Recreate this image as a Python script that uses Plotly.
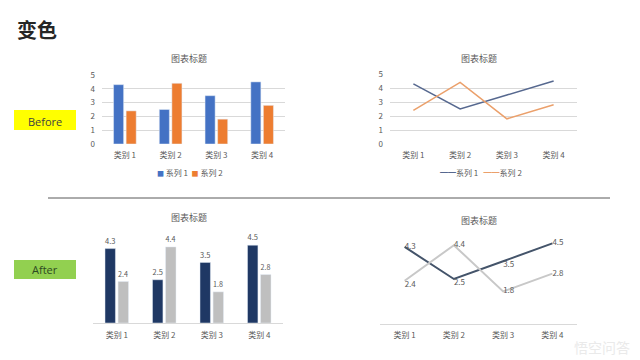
import plotly.graph_objects as go

categories = ["类别 1", "类别 2", "类别 3", "类别 4"]
series1 = [4.3, 2.5, 3.5, 4.5]
series2 = [2.4, 4.4, 1.8, 2.8]
series_names = ["系列 1", "系列 2"]
chart_title = "图表标题"
yticks = [0, 1, 2, 3, 4, 5]

W, H = 640, 360
FONT = "Noto Sans CJK SC, Microsoft YaHei, sans-serif"
TXT = "#595959"
before_bar_colors = ["#4472C4", "#ED7D31"]
before_line_colors = ["#56688F", "#EBA06B"]
after_bar_colors = ["#1F3864", "#BFBFBF"]
after_line_colors = ["#44546A", "#C8C8C8"]

def px(x):
    return x / W

def py(y):
    return 1 - y / H

fig = go.Figure()
series = [series1, series2]

# Before: bar chart
for s, nm, col in zip(series, series_names, before_bar_colors):
    fig.add_trace(go.Bar(x=categories, y=s, name=nm, marker_color=col,
                         xaxis="x", yaxis="y", showlegend=False))
# Before: line chart
for s, nm, col in zip(series, series_names, before_line_colors):
    fig.add_trace(go.Scatter(x=categories, y=s, name=nm, mode="lines",
                             line=dict(color=col, width=1.5), xaxis="x2", yaxis="y2",
                             showlegend=False))
# After: bar chart
for s, nm, col in zip(series, series_names, after_bar_colors):
    fig.add_trace(go.Bar(x=categories, y=s, name=nm, marker_color=col,
                         text=[str(v) for v in s], textposition="outside", cliponaxis=False,
                         textfont=dict(size=8, color=TXT, family=FONT),
                         xaxis="x3", yaxis="y3", showlegend=False))
# After: line chart
positions = [["middle right", "bottom right", "bottom right", "middle right"],
             ["bottom right", "middle right", "middle right", "middle right"]]
for s, nm, col, pos in zip(series, series_names, after_line_colors, positions):
    fig.add_trace(go.Scatter(x=categories, y=s, name=nm, mode="lines+text",
                             text=[str(v) for v in s], textposition=pos,
                             textfont=dict(size=8, color=TXT, family=FONT), cliponaxis=False,
                             line=dict(color=col, width=2), xaxis="x4", yaxis="y4",
                             showlegend=False))

tickfont = dict(size=8, color=TXT, family=FONT)
xcommon = dict(type="category", tickfont=tickfont, showgrid=False, zeroline=False, ticks="",
               fixedrange=True, categoryorder="array", categoryarray=categories,
               range=[-0.5, len(categories) - 0.5])

layout = dict(
    width=W, height=H, margin=dict(l=0, r=0, t=0, b=0, pad=0, autoexpand=False),
    paper_bgcolor="white", plot_bgcolor="rgba(0,0,0,0)",
    font=dict(family=FONT, color=TXT), showlegend=False,
    barmode="group", bargap=0.45, bargroupgap=0.2,
    xaxis=dict(domain=[px(102), px(285)], anchor="y", showline=False, ticklabelstandoff=5, **xcommon),
    yaxis=dict(domain=[py(144), py(75)], anchor="x", range=[0, 5], tickvals=yticks,
               showgrid=True, gridcolor="#D9D9D9", gridwidth=1, zeroline=False,
               tickfont=tickfont, ticks="", ticklabelstandoff=6),
    xaxis2=dict(domain=[px(390), px(577)], anchor="y2", showline=False, ticklabelstandoff=5, **xcommon),
    yaxis2=dict(domain=[py(144), py(74)], anchor="x2", range=[0, 5], tickvals=yticks,
                showgrid=True, gridcolor="#D9D9D9", gridwidth=1, zeroline=False,
                tickfont=tickfont, ticks="", ticklabelstandoff=6),
    xaxis3=dict(domain=[px(93), px(283)], anchor="y3", showline=True, linecolor="#D9D9D9",
                linewidth=1, ticklabelstandoff=4, **xcommon),
    yaxis3=dict(domain=[py(323), py(236.5)], anchor="x3", range=[0, 5], visible=False),
    xaxis4=dict(domain=[px(380), px(577)], anchor="y4", showline=True, linecolor="#D9D9D9",
                linewidth=1, ticklabelstandoff=4, **xcommon),
    yaxis4=dict(domain=[py(323.5), py(234.5)], anchor="x4", range=[0, 5], visible=False),
)
fig.update_layout(**layout)

shapes = [
    dict(type="rect", xref="paper", yref="paper", x0=px(14), x1=px(76), y0=py(130), y1=py(110),
         fillcolor="#FFFF00", line=dict(width=0), layer="below"),
    dict(type="rect", xref="paper", yref="paper", x0=px(14), x1=px(76), y0=py(279), y1=py(260),
         fillcolor="#92D050", line=dict(width=0), layer="below"),
    dict(type="line", xref="paper", yref="paper", x0=px(48), x1=px(610), y0=py(198), y1=py(198),
         line=dict(color="#595959", width=1)),
]
fig.update_layout(shapes=shapes)

bar_legend = "&nbsp;&nbsp;".join(
    f"<span style='color:{c};font-size:7px'>■</span> {n}" for n, c in zip(series_names, before_bar_colors))
line_legend = "&nbsp;&nbsp;&nbsp;".join(
    f"<span style='color:{c}'>━━</span>{n}" for n, c in zip(series_names, before_line_colors))

ann = [
    dict(text="<b>变色</b>", x=px(15), y=py(29), xanchor="left", yanchor="middle",
         font=dict(size=20, color="#262626", family=FONT)),
    dict(text="Before", x=px(45), y=py(121), xanchor="center", yanchor="middle",
         font=dict(size=11, color="#404040", family="Segoe UI, Open Sans, sans-serif")),
    dict(text="After", x=px(45), y=py(269.5), xanchor="center", yanchor="middle",
         font=dict(size=11, color="#2E4A22", family="Segoe UI, Open Sans, sans-serif")),
    dict(text=chart_title, x=px(189), y=py(59), xanchor="center", yanchor="middle",
         font=dict(size=9, color=TXT, family=FONT)),
    dict(text=chart_title, x=px(479), y=py(59), xanchor="center", yanchor="middle",
         font=dict(size=9, color=TXT, family=FONT)),
    dict(text=chart_title, x=px(189), y=py(217), xanchor="center", yanchor="middle",
         font=dict(size=9, color=TXT, family=FONT)),
    dict(text=chart_title, x=px(479), y=py(220), xanchor="center", yanchor="middle",
         font=dict(size=9, color=TXT, family=FONT)),
    dict(text=bar_legend, x=px(190), y=py(172), xanchor="center", yanchor="middle",
         font=dict(size=8, color=TXT, family=FONT)),
    dict(text=line_legend, x=px(481), y=py(172), xanchor="center", yanchor="middle",
         font=dict(size=8, color=TXT, family=FONT)),
    dict(text="悟空问答", x=px(632), y=py(347), xanchor="right", yanchor="middle",
         font=dict(size=14, color="#EAEAEA", family=FONT)),
]
for a in ann:
    a.update(xref="paper", yref="paper", showarrow=False)
fig.update_layout(annotations=ann)

fig.write_html("out.html", config={"displayModeBar": False, "staticPlot": True},
               post_script="document.body.style.margin='0';document.body.style.overflow='hidden';")
